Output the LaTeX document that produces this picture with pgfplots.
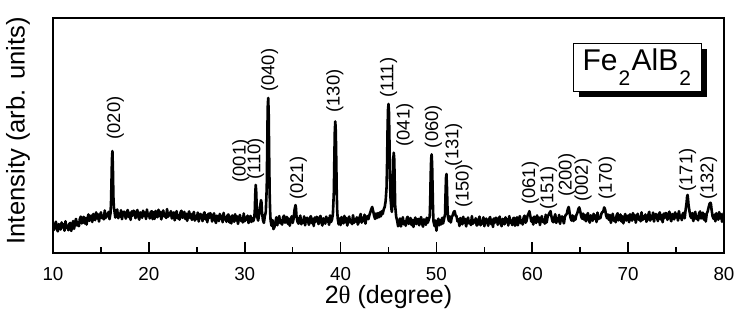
\documentclass[border=0pt]{standalone}
\usepackage{fontspec}
\setmainfont{Liberation Sans}
\newfontfamily\serifsym{Liberation Serif}
\usepackage{pgfplots}
\pgfplotsset{compat=1.18}
\usetikzlibrary{shadows}
\newcommand{\sub}[1]{\kern0.6pt\raisebox{-7.4pt}{\fontsize{10.5}{12}\selectfont #1}\kern0.6pt}
\begin{document}
\begin{tikzpicture}
\path[use as bounding box] (-26.5pt,-35pt) rectangle (349pt,126.5pt);
\begin{axis}[
  scale only axis,
  width=335.5pt, height=117.5pt,
  xmin=10, xmax=80, ymin=0, ymax=100,
  axis line style={line width=0.85pt},
  xtick={10,20,...,80},
  minor xtick={15,25,...,75},
  ytick=\empty,
  xtick pos=bottom,
  tick align=inside,
  major tick length=5.5pt,
  minor tick length=3pt,
  tick style={line width=0.85pt, black},
  xticklabel shift=3.8pt,
  /pgf/number format/assume math mode=true,
  ticklabel style={font=\fontsize{9.4}{10}\selectfont},
  xlabel={2{\serifsym θ} (degree)},
  ylabel={Intensity (arb. units)},
  xlabel style={font=\fontsize{12.5}{14}\selectfont, at={(axis description cs:0.5,-0.187)}, anchor=center},
  ylabel style={font=\fontsize{12.8}{14}\selectfont, at={(axis description cs:-0.052,0.52)}, anchor=center},
]
\addplot[black, line width=1.3pt, line join=round] table {
10.0 12.5
10.1 9.8
10.2 11.9
10.3 13.3
10.4 10.5
10.5 9.2
10.6 12.3
10.7 11.5
10.8 10.0
10.9 13.0
11.0 10.9
11.1 12.2
11.2 9.5
11.3 13.5
11.4 10.7
11.5 11.6
11.6 9.7
11.7 12.4
11.8 12.8
11.9 9.4
12.0 11.3
12.1 13.6
12.2 10.3
12.3 13.0
12.4 14.5
12.5 11.7
12.6 13.0
12.7 11.4
12.8 14.5
12.9 15.5
13.0 12.6
13.1 13.5
13.2 15.4
13.3 12.6
13.4 14.9
13.5 12.1
13.6 14.8
13.7 16.4
13.8 13.7
13.9 15.6
14.0 15.9
14.1 13.2
14.2 16.6
14.3 14.9
14.4 14.0
14.5 17.3
14.6 14.8
14.7 16.5
14.8 13.4
14.9 15.9
15.0 17.3
15.1 14.9
15.2 15.9
15.3 14.3
15.4 18.1
15.5 14.9
15.6 16.6
15.7 15.6
15.8 17.5
15.9 14.4
16.0 17.0
16.05 21
16.1 30
16.15 40
16.2 43.4
16.25 36
16.3 24
16.35 19.5
16.4 18.2
16.5 15.1
16.6 17.2
16.7 18.5
16.8 14.8
16.9 16.7
17.0 15.5
17.1 18.2
17.2 14.4
17.3 16.9
17.4 17.6
17.5 16.3
17.6 14.6
17.7 17.4
17.8 18.3
17.9 15.3
18.0 17.1
18.1 14.1
18.2 17.7
18.3 15.9
18.4 18.0
18.5 17.5
18.6 14.8
18.7 16.9
18.8 18.3
18.9 15.5
19.0 14.2
19.1 17.3
19.2 16.5
19.3 15.0
19.4 18.0
19.5 15.9
19.6 17.2
19.7 14.5
19.8 18.5
19.9 15.7
20.0 16.6
20.1 14.7
20.2 17.4
20.3 17.8
20.4 14.4
20.5 17.3
20.6 14.5
20.7 17.9
20.8 16.1
20.9 15.2
21.0 18.4
21.1 15.8
21.2 17.5
21.3 14.3
21.4 16.8
21.5 18.1
21.6 15.6
21.7 16.6
21.8 14.9
21.9 18.7
22.0 15.4
22.1 17.0
22.2 16.0
22.3 17.8
22.4 14.7
22.5 15.2
22.6 17.3
22.7 13.9
22.8 16.4
22.9 17.8
23.0 14.8
23.1 16.0
23.2 14.2
23.3 17.2
23.4 18.0
23.5 15.0
23.6 15.7
23.7 17.5
23.8 14.5
23.9 16.7
24.0 13.7
24.1 16.3
24.2 17.7
24.3 14.9
24.4 16.6
24.5 14.1
24.6 16.2
24.7 17.5
24.8 13.8
24.9 15.7
25.0 14.5
25.1 17.2
25.2 13.4
25.3 15.9
25.4 16.6
25.5 15.3
25.6 13.6
25.7 16.4
25.8 17.3
25.9 14.3
26.0 16.1
26.1 13.1
26.2 16.7
26.3 14.9
26.4 17.0
26.5 16.1
26.6 13.4
26.7 15.5
26.8 16.9
26.9 14.1
27.0 12.8
27.1 15.9
27.2 15.1
27.3 13.6
27.4 16.6
27.5 14.5
27.6 15.8
27.7 13.1
27.8 17.1
27.9 14.3
28.0 15.2
28.1 13.3
28.2 16.0
28.3 16.4
28.4 13.0
28.5 15.4
28.6 12.6
28.7 16.0
28.8 14.2
28.9 13.3
29.0 16.5
29.1 13.9
29.2 15.6
29.3 12.4
29.4 14.9
29.5 16.2
29.6 13.7
29.7 14.7
29.8 13.0
29.9 16.8
30.0 13.5
30.1 15.1
30.2 14.1
30.3 15.9
30.4 12.8
30.5 14.0
30.6 15.8
30.7 13.2
30.8 14.9
30.9 13.6
31.0 15.2
31.05 18
31.1 25
31.15 29
31.2 26
31.25 20
31.3 15.5
31.4 13.8
31.5 16.2
31.6 19.5
31.7 22.5
31.75 21.5
31.8 17.5
31.9 14.0
32.0 12.8
32.1 15.6
32.2 17.5
32.3 28
32.35 46
32.4 62
32.45 66
32.5 60
32.55 42
32.6 26
32.65 18
32.7 13.8
32.8 11.6
32.9 14.0
33.0 10.2
33.1 11.0
33.2 13.1
33.3 15.2
33.4 11.8
33.5 14.3
33.6 15.7
33.7 12.7
33.8 13.9
33.9 12.1
34.0 15.1
34.1 15.9
34.2 12.9
34.3 13.6
34.4 15.4
34.5 12.4
34.6 14.6
34.7 11.6
34.8 14.2
34.9 15.6
35.0 12.8
35.1 14.5
35.2 18.5
35.3 20.4
35.35 19
35.4 15.8
35.5 13.4
35.6 12.5
35.7 14.6
35.8 15.9
35.9 12.2
36.0 14.1
36.1 12.9
36.2 15.6
36.3 11.8
36.4 14.3
36.5 15.0
36.6 13.7
36.7 12.0
36.8 14.8
36.9 15.7
37.0 12.7
37.1 14.5
37.2 11.5
37.3 15.1
37.4 13.3
37.5 15.4
37.6 15.0
37.7 12.3
37.8 14.4
37.9 15.8
38.0 13.0
38.1 11.7
38.2 14.8
38.3 14.0
38.4 12.5
38.5 15.5
38.6 13.4
38.7 14.7
38.8 12.0
38.9 16.0
39.0 13.2
39.1 14.1
39.2 16.5
39.3 26
39.35 40
39.4 52
39.45 56
39.5 52
39.55 40
39.6 26
39.65 18
39.7 14.8
39.8 12.2
39.9 14.7
40.0 11.9
40.1 15.3
40.2 13.5
40.3 12.6
40.4 15.8
40.5 13.2
40.6 14.9
40.7 11.7
40.8 14.2
40.9 15.5
41.0 13.0
41.1 14.0
41.2 12.3
41.3 16.1
41.4 12.8
41.5 14.4
41.6 13.4
41.7 15.2
41.8 12.1
41.9 13.2
42.0 15.3
42.1 16.6
42.2 12.9
42.3 14.8
42.4 13.6
42.5 16.3
42.6 12.5
42.7 15.0
42.8 15.7
42.9 14.4
43.0 16.0
43.1 17.3
43.2 18.6
43.3 19.6
43.4 17.8
43.5 15.8
43.6 14.5
43.7 16.8
43.8 14.9
43.9 17.0
44.0 15.2
44.1 17.3
44.2 15.6
44.3 17.8
44.4 16.6
44.5 18.6
44.6 19.5
44.7 22
44.8 28
44.85 38
44.9 52
44.95 61
45.0 63.4
45.05 60
45.1 48
45.15 34
45.2 24
45.3 19
45.35 17.5
45.4 20
45.45 30
45.5 40
45.55 42.7
45.6 40
45.65 30
45.7 20
45.8 15.5
45.9 13.8
46.0 11.4
46.1 12.6
46.2 14.7
46.3 11.3
46.4 13.8
46.5 15.2
46.6 12.2
46.7 13.4
46.8 11.6
46.9 14.6
47.0 15.4
47.1 12.4
47.2 13.1
47.3 14.9
47.4 11.9
47.5 14.1
47.6 11.1
47.7 13.7
47.8 15.1
47.9 12.3
48.0 14.0
48.1 14.5
48.2 11.8
48.3 13.9
48.4 15.3
48.5 12.5
48.6 11.2
48.7 14.3
48.8 13.5
48.9 12.0
49.0 15.0
49.1 12.9
49.2 14.2
49.3 15.5
49.35 22
49.4 33
49.45 40
49.5 42
49.55 38
49.6 28
49.65 18
49.7 13.4
49.8 11.5
49.9 13.8
50.0 9.5
50.1 12.9
50.2 14.6
50.3 11.8
50.4 14.0
50.5 12.2
50.6 15.0
50.7 12.6
50.8 14.6
50.9 16.5
50.95 25
51.0 32
51.05 33.6
51.1 28
51.15 20
51.2 15.5
51.3 13.6
51.4 15.6
51.5 13.0
51.6 15.2
51.7 16.1
51.8 17.4
51.9 17.8
52.0 16.0
52.1 15.6
52.2 13.5
52.3 14.3
52.4 11.5
52.5 14.9
52.6 13.1
52.7 12.2
52.8 15.4
52.9 12.8
53.0 14.5
53.1 11.3
53.2 13.8
53.3 15.1
53.4 12.6
53.5 13.6
53.6 11.9
53.7 15.7
53.8 12.4
53.9 14.0
54.0 13.0
54.1 14.8
54.2 11.7
54.3 12.1
54.4 14.2
54.5 15.5
54.6 11.8
54.7 13.7
54.8 12.5
54.9 15.2
55.0 11.4
55.1 13.9
55.2 14.6
55.3 13.3
55.4 11.6
55.5 14.4
55.6 15.3
55.7 12.3
55.8 14.1
55.9 11.1
56.0 14.7
56.1 12.9
56.2 15.0
56.3 14.7
56.4 12.0
56.5 14.1
56.6 15.5
56.7 12.7
56.8 11.4
56.9 14.5
57.0 13.7
57.1 12.2
57.2 15.2
57.3 13.1
57.4 14.4
57.5 11.7
57.6 15.7
57.7 12.9
57.8 13.8
57.9 11.9
58.0 14.6
58.1 15.0
58.2 11.6
58.3 13.1
58.4 15.2
58.5 11.8
58.6 14.3
58.7 15.7
58.8 12.7
58.9 13.9
59.0 12.1
59.1 15.1
59.2 15.9
59.3 12.9
59.4 13.6
59.5 15.8
59.6 16.6
59.7 17.8
59.8 15.6
59.9 13.4
60.0 14.9
60.1 12.1
60.2 15.5
60.3 13.7
60.4 12.8
60.5 16.0
60.6 13.4
60.7 15.1
60.8 11.9
60.9 14.4
61.0 15.7
61.1 13.2
61.2 14.2
61.3 12.5
61.4 16.3
61.5 13.0
61.6 15.4
61.7 16.2
61.8 17.0
61.9 17.8
62.0 15.5
62.1 13.6
62.2 13.1
62.3 15.2
62.4 16.5
62.5 12.8
62.6 14.7
62.7 13.5
62.8 16.2
62.9 12.4
63.0 14.9
63.1 15.6
63.2 14.3
63.3 12.6
63.4 15.4
63.5 16.3
63.6 16.6
63.7 18.6
63.8 19.6
63.9 17.0
64.0 14.8
64.1 13.8
64.2 16.0
64.3 13.6
64.4 15.5
64.5 14.2
64.6 16.2
64.7 17.0
64.8 18.6
64.9 19.4
65.0 17.8
65.1 15.6
65.2 14.6
65.3 16.8
65.4 14.2
65.5 16.2
65.6 13.5
65.7 15.6
65.8 17.0
65.9 14.2
66.0 12.9
66.1 16.0
66.2 15.2
66.3 13.7
66.4 16.7
66.5 14.6
66.6 15.9
66.7 13.2
66.8 17.2
66.9 14.4
67.0 15.3
67.1 14.8
67.2 16.6
67.3 17.4
67.4 17.6
67.5 19.4
67.6 18.5
67.7 16.0
67.8 14.8
67.9 16.4
68.0 14.1
68.1 16.2
68.2 12.8
68.3 15.3
68.4 16.7
68.5 13.7
68.6 14.9
68.7 13.1
68.8 16.1
68.9 16.9
69.0 13.9
69.1 14.6
69.2 16.4
69.3 13.4
69.4 15.6
69.5 12.6
69.6 15.2
69.7 16.6
69.8 13.8
69.9 15.5
70.0 15.9
70.1 13.1
70.2 16.5
70.3 14.7
70.4 13.8
70.5 17.0
70.6 14.4
70.7 16.1
70.8 12.9
70.9 15.4
71.0 16.7
71.1 14.2
71.2 15.2
71.3 13.5
71.4 17.3
71.5 14.0
71.6 15.6
71.7 14.6
71.8 16.4
71.9 13.3
72.0 14.1
72.1 16.2
72.2 17.5
72.3 13.8
72.4 15.7
72.5 14.5
72.6 17.2
72.7 13.4
72.8 15.9
72.9 16.6
73.0 15.3
73.1 13.6
73.2 16.4
73.3 17.3
73.4 14.3
73.5 16.1
73.6 13.1
73.7 16.7
73.8 14.9
73.9 17.0
74.0 16.8
74.1 14.1
74.2 16.2
74.3 17.6
74.4 14.8
74.5 13.5
74.6 16.6
74.7 15.8
74.8 14.3
74.9 17.3
75.0 15.2
75.1 16.5
75.2 13.8
75.3 17.8
75.4 15.0
75.5 15.9
75.6 14.0
75.7 16.7
75.8 17.1
75.9 14.8
76.0 18.5
76.1 21.5
76.15 24
76.2 24.7
76.25 23
76.3 20.5
76.4 17.8
76.5 15.6
76.6 14.9
76.7 17.0
76.8 13.6
76.9 16.1
77.0 17.5
77.1 14.5
77.2 15.7
77.3 13.9
77.4 16.9
77.5 17.7
77.6 14.7
77.7 15.4
77.8 17.2
77.9 14.2
78.0 16.4
78.1 13.4
78.2 16.8
78.3 17.7
78.4 19.5
78.5 21.0
78.6 21.4
78.65 20.5
78.7 18.6
78.8 15.8
78.9 14.6
79.0 16.3
79.1 13.5
79.2 16.9
79.3 15.1
79.4 14.2
79.5 17.4
79.6 14.8
79.7 16.5
79.8 13.3
79.9 15.8
80.0 17.1
};
\begin{scope}[every node/.style={rotate=90, anchor=west, inner sep=0pt, font=\fontsize{9.2}{10}\selectfont}]
\node at (axis cs:16.5,48.1) {(020)};
\node at (axis cs:29.6,29.8) {(001)};
\node at (axis cs:31.15,31.1) {(110)};
\node at (axis cs:32.6,68.5) {(040)};
\node at (axis cs:35.6,22.5) {(021)};
\node at (axis cs:39.4,59.6) {(130)};
\node at (axis cs:45.0,65.8) {(111)};
\node at (axis cs:46.7,45.2) {(041)};
\node at (axis cs:49.67,44.5) {(060)};
\node at (axis cs:51.8,36.8) {(131)};
\node at (axis cs:52.87,19.1) {(150)};
\node at (axis cs:59.8,20.4) {(061)};
\node at (axis cs:61.7,18.3) {(151)};
\node at (axis cs:63.6,23.8) {(200)};
\node at (axis cs:65.3,21.7) {(002)};
\node at (axis cs:67.8,22.5) {(170)};
\node at (axis cs:76.2,26) {(171)};
\node at (axis cs:78.4,22.5) {(132)};
\end{scope}
\node[draw, line width=0.8pt, fill=white, minimum width=64pt, minimum height=24pt, inner sep=0pt,
  drop shadow={shadow xshift=3pt, shadow yshift=-3pt, fill=black, opacity=1},
  font=\fontsize{15}{17}\selectfont] at (rel axis cs:0.871,0.79) {Fe\sub{2}AlB\sub{2}};
\end{axis}
\end{tikzpicture}
\end{document}
